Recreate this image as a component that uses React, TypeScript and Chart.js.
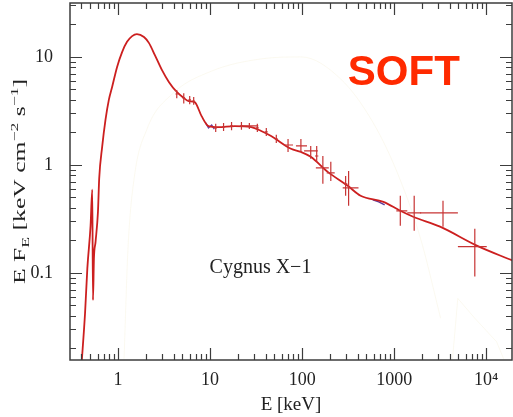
import React, { useEffect, useRef } from 'react';
import { Chart, registerables } from 'chart.js';
Chart.register(...registerables);

// Model spectrum (E in keV, E*F_E in keV cm^-2 s^-1)
const modelEnergy = [0.40, 0.437, 0.463, 0.502, 0.524, 0.533, 0.546, 0.569, 0.604, 0.623, 0.671, 0.729, 0.793, 0.861, 0.975, 1.105, 1.25, 1.42, 1.60, 1.91, 2.16, 2.51, 2.99, 3.56, 4.34, 5.17, 5.85, 6.79, 8.08, 9.61, 12.3, 18.4, 28.0, 35.9, 46.0, 75.7, 97, 124, 190, 313, 432, 764, 1167, 1611, 3155, 7908, 19380];
const modelFlux = [0.014, 0.042, 0.11, 0.273, 0.59, 0.056, 0.136, 0.195, 0.368, 0.75, 1.47, 2.61, 4.0, 5.27, 8.08, 11.1, 13.8, 15.6, 16.3, 15.3, 13.5, 10.4, 7.58, 5.87, 4.74, 4.17, 3.9, 3.82, 2.83, 2.29, 2.24, 2.29, 2.24, 2.06, 1.85, 1.41, 1.32, 1.19, 0.862, 0.64, 0.518, 0.455, 0.376, 0.331, 0.268, 0.179, 0.13];

// Second instrument segments
const instrAEnergy = [8.94, 9.61, 10.4, 11.1];
const instrAFlux = [2.45, 2.2, 2.34, 2.15];
const instrBEnergy = [586, 680, 789];
const instrBFlux = [0.474, 0.455, 0.426];

// Faint model components
const faintAEnergy = [1.16, 1.28, 1.49, 2.06, 3.83, 10.4, 36, 98, 265, 560, 1040, 1940, 3200];
const faintAFlux = [0.016, 0.167, 0.74, 2.15, 4.5, 7.4, 9.6, 10, 6.2, 2.66, 0.92, 0.207, 0.038];
const faintBEnergy = [4270, 4920, 7530, 13000, 15500];
const faintBFlux = [0.0145, 0.058, 0.038, 0.023, 0.016];

// Data points with error bars
const errEnergy =   [4.34, 5.17, 6.0, 6.63, 11.5, 14.0, 17.1, 21.9, 26.7, 32.6, 40.8, 52.4, 70.3, 97, 124, 144, 168, 205, 297, 320, 1167, 1652, 3397, 7530];
const errEnergyLo = [4.2, 5.0, 5.8, 6.4, 11.1, 13.5, 16.5, 21.1, 21.9, 31.4, 39.3, 50.5, 63.6, 85.7, 105, 138, 141, 185, 285, 276, 1056, 1390, 1918, 4932];
const errEnergyHi = [4.5, 5.35, 6.2, 6.85, 11.9, 14.5, 17.7, 22.7, 33.4, 33.8, 42.3, 54.3, 79.6, 113, 148, 150, 195, 226, 310, 410, 1390, 1967, 4932, 10150];
const errFlux =     [4.54, 4.17, 4.0, 3.91, 2.2, 2.25, 2.3, 2.3, 2.3, 2.2, 2.02, 1.74, 1.53, 1.50, 1.35, 1.21, 0.94, 0.844, 0.668, 0.613, 0.376, 0.36, 0.36, 0.175];
const errFluxLo =   [4.15, 3.7, 3.65, 3.6, 2.02, 2.06, 2.1, 2.12, 2.15, 2.02, 1.85, 1.6, 1.32, 1.32, 1.14, 1.07, 0.668, 0.711, 0.518, 0.418, 0.273, 0.246, 0.268, 0.0925];
const errFluxHi =   [4.95, 4.6, 4.35, 4.25, 2.4, 2.45, 2.5, 2.5, 2.45, 2.4, 2.2, 1.9, 1.74, 1.74, 1.5, 1.5, 1.21, 1.07, 0.791, 0.88, 0.518, 0.518, 0.465, 0.256];

const xTickValues = [1, 10, 100, 1000, 10000];
const xTickLabels = ['1', '10', '100', '1000', '10⁴'];
const yTickValues = [0.1, 1, 10];
const yTickLabels = ['0.1', '1', '10'];

const X_MIN = 0.318;
const X_MAX = 19100;
const Y_MIN = 0.0156;
const Y_MAX = 31.6;

const SERIF = '"Liberation Serif", "Times New Roman", serif';

const pts = (xs: number[], ys: number[]) => xs.map((x, i) => ({ x, y: ys[i] }));

const errorBarPlugin = {
  id: 'errorBars',
  afterDatasetsDraw(chart: any) {
    const { ctx, chartArea, scales } = chart;
    const xs = scales.x, ys = scales.y;
    ctx.save();
    ctx.beginPath();
    ctx.rect(chartArea.left, chartArea.top, chartArea.right - chartArea.left, chartArea.bottom - chartArea.top);
    ctx.clip();
    ctx.strokeStyle = '#c73434';
    ctx.lineWidth = 1.2;
    for (let i = 0; i < errEnergy.length; i++) {
      const cx = xs.getPixelForValue(errEnergy[i]);
      const cy = ys.getPixelForValue(errFlux[i]);
      ctx.beginPath();
      ctx.moveTo(xs.getPixelForValue(errEnergyLo[i]), cy);
      ctx.lineTo(xs.getPixelForValue(errEnergyHi[i]), cy);
      ctx.moveTo(cx, ys.getPixelForValue(errFluxLo[i]));
      ctx.lineTo(cx, ys.getPixelForValue(errFluxHi[i]));
      ctx.stroke();
    }
    ctx.restore();
  },
};

const framePlugin = {
  id: 'frame',
  afterDraw(chart: any) {
    const { ctx, chartArea, scales } = chart;
    const { left, right, top, bottom } = chartArea;
    ctx.save();
    ctx.strokeStyle = '#3c3c3c';
    ctx.lineWidth = 1.5;
    ctx.strokeRect(left, top, right - left, bottom - top);
    ctx.lineWidth = 1.2;
    ctx.beginPath();
    for (let k = -2; k <= 5; k++) {
      for (let m = 1; m <= 9; m++) {
        const v = m * Math.pow(10, k);
        const len = m === 1 ? 12 : 6;
        if (v >= X_MIN && v <= X_MAX) {
          const px = Math.round(scales.x.getPixelForValue(v)) + 0.5;
          ctx.moveTo(px, bottom);
          ctx.lineTo(px, bottom - len);
          ctx.moveTo(px, top);
          ctx.lineTo(px, top + len);
        }
        if (v >= Y_MIN && v <= Y_MAX) {
          const py = Math.round(scales.y.getPixelForValue(v)) + 0.5;
          ctx.moveTo(left, py);
          ctx.lineTo(left + len, py);
          ctx.moveTo(right, py);
          ctx.lineTo(right - len, py);
        }
      }
    }
    ctx.stroke();
    ctx.restore();
  },
};

const textPlugin = {
  id: 'texts',
  afterDraw(chart: any) {
    const { ctx, chartArea, scales } = chart;
    ctx.save();
    // SOFT label
    ctx.fillStyle = '#ff2a00';
    ctx.font = 'bold 42px "Liberation Sans", Arial, sans-serif';
    ctx.textAlign = 'left';
    ctx.textBaseline = 'alphabetic';
    ctx.fillText('SOFT', scales.x.getPixelForValue(314), scales.y.getPixelForValue(5.5));
    // Source label
    ctx.fillStyle = '#222';
    ctx.font = '20px ' + SERIF;
    ctx.textBaseline = 'middle';
    ctx.fillText('Cygnus X−1', scales.x.getPixelForValue(9.86), scales.y.getPixelForValue(0.111));
    ctx.restore();

    // Y axis title with subscript / superscripts
    const parts: { t: string; s: 'n' | 'sub' | 'sup' }[] = [
      { t: 'E F', s: 'n' },
      { t: 'E', s: 'sub' },
      { t: ' [keV cm', s: 'n' },
      { t: '−2', s: 'sup' },
      { t: ' s', s: 'n' },
      { t: '−1', s: 'sup' },
      { t: ']', s: 'n' },
    ];
    const base = 16;
    const small = 11;
    ctx.save();
    const fontFor = (s: string) => (s === 'n' ? base : small) + 'px ' + SERIF;
    let total = 0;
    for (const p of parts) {
      ctx.font = fontFor(p.s);
      total += ctx.measureText(p.t).width;
    }
    const target = 205;
    const cy = (chartArea.top + chartArea.bottom) / 2;
    ctx.translate(25, cy);
    ctx.rotate(-Math.PI / 2);
    ctx.scale(target / total, 1);
    ctx.fillStyle = '#222';
    ctx.textAlign = 'left';
    ctx.textBaseline = 'alphabetic';
    let x = -total / 2;
    for (const p of parts) {
      ctx.font = fontFor(p.s);
      const dy = p.s === 'sub' ? 4 : p.s === 'sup' ? -7 : 0;
      ctx.fillText(p.t, x, dy);
      x += ctx.measureText(p.t).width;
    }
    ctx.restore();
  },
};

export default function App() {
  const ref = useRef<HTMLCanvasElement>(null);
  useEffect(() => {
    const canvas = ref.current!;
    const chart = new Chart(canvas, {
      type: 'line',
      data: {
        datasets: [
          { label: 'faintA', data: pts(faintAEnergy, faintAFlux), borderColor: 'rgba(236,228,185,0.22)', borderWidth: 1, pointRadius: 0, cubicInterpolationMode: 'monotone' },
          { label: 'faintB', data: pts(faintBEnergy, faintBFlux), borderColor: 'rgba(236,228,185,0.22)', borderWidth: 1, pointRadius: 0 },
          { label: 'model', data: pts(modelEnergy, modelFlux), borderColor: '#cc1f1f', borderWidth: 1.8, pointRadius: 0, cubicInterpolationMode: 'monotone' },
          { label: 'instrA', data: pts(instrAEnergy, instrAFlux), borderColor: '#6a3fa0', borderWidth: 1.4, pointRadius: 0 },
          { label: 'instrB', data: pts(instrBEnergy, instrBFlux), borderColor: '#5a3a9a', borderWidth: 1.4, pointRadius: 0 },
        ],
      } as any,
      options: {
        responsive: false,
        animation: false,
        devicePixelRatio: 1,
        layout: { padding: { top: 3, right: 1, left: 0, bottom: 0 } },
        plugins: { legend: { display: false }, tooltip: { enabled: false } },
        scales: {
          x: {
            type: 'logarithmic',
            position: 'bottom',
            min: X_MIN,
            max: X_MAX,
            grid: { display: false, drawTicks: false },
            border: { display: false },
            ticks: {
              autoSkip: false,
              maxRotation: 0,
              padding: 9,
              color: '#222',
              font: { family: SERIF, size: 18 },
              callback: (_v: any, i: number) => xTickLabels[i],
            },
            afterBuildTicks: (s: any) => { s.ticks = xTickValues.map((v) => ({ value: v })); },
            afterFit: (s: any) => { s.height = 57; s.paddingLeft = 0; s.paddingRight = 0; },
            title: { display: true, text: 'E [keV]', color: '#222', font: { family: SERIF, size: 19 }, padding: { top: 0, bottom: 1 } },
          },
          y: {
            type: 'logarithmic',
            position: 'left',
            min: Y_MIN,
            max: Y_MAX,
            grid: { display: false, drawTicks: false },
            border: { display: false },
            ticks: {
              autoSkip: false,
              padding: 17,
              color: '#222',
              font: { family: SERIF, size: 18 },
              callback: (_v: any, i: number) => yTickLabels[i],
            },
            afterBuildTicks: (s: any) => { s.ticks = yTickValues.map((v) => ({ value: v })); },
            afterFit: (s: any) => { s.width = 70; s.paddingTop = 0; s.paddingBottom = 0; },
          },
        },
      } as any,
      plugins: [errorBarPlugin, framePlugin, textPlugin],
    });
    return () => chart.destroy();
  }, []);
  return (
    <div style={{ position: 'absolute', left: 0, top: 0, width: 513, height: 417, background: '#fff' }}>
      <canvas ref={ref} width={513} height={417} style={{ display: 'block' }} />
    </div>
  );
}
